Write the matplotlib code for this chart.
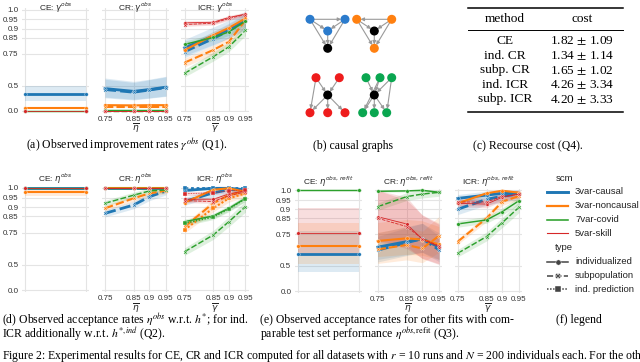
import numpy as np
import matplotlib
matplotlib.use("Agg")
import matplotlib.pyplot as plt
from matplotlib.lines import Line2D
from matplotlib.patches import Circle

# ---------------- data ----------------
SCMS = ["3var-causal", "3var-noncausal", "7var-covid", "5var-skill"]
TYPES = ["individualized", "subpopulation", "ind. prediction"]
SCM_COLORS = ["#1f77b4", "#ff7f0e", "#2ca02c", "#d62728"]
X_LEVELS = [0.75, 0.85, 0.9, 0.95]
X_TICKLABELS = ["0.75", "0.85", "0.9", "0.95"]
CE_X = [0.75, 0.95]
Y_TICKS = [0.0, 0.5, 0.75, 0.85, 0.9, 0.95, 1.0]
Y_TICKLABELS = ["0.0", "0.5", "0.75", "0.85", "0.9", "0.95", "1.0"]

C, N, V, S = SCMS
IND, SUB, PRED = TYPES

# (a) observed improvement rates gamma^obs: (means, ci half width)
A_CE = {
    (C, IND): ([0.41, 0.41], 0.09),
    (N, IND): ([0.18, 0.18], 0.02),
    (V, IND): ([0.02, 0.02], 0.01),
    (S, IND): ([0.0, 0.0], 0.0),
}
A_CR = {
    (C, IND): ([0.47, 0.44, 0.46, 0.485], 0.10),
    (C, SUB): ([0.46, 0.43, 0.455, 0.48], 0.10),
    (N, IND): ([0.24, 0.235, 0.24, 0.24], 0.02),
    (N, SUB): ([0.19, 0.19, 0.19, 0.19], 0.02),
    (V, IND): ([0.08, 0.08, 0.08, 0.08], 0.01),
    (V, SUB): ([0.06, 0.06, 0.06, 0.06], 0.01),
    (S, IND): ([0.0, 0.0, 0.0, 0.0], 0.0),
    (S, SUB): ([0.0, 0.0, 0.0, 0.0], 0.0),
}
A_ICR = {
    (C, IND): ([0.789, 0.859, 0.896, 0.942], 0.05),
    (C, SUB): ([0.764, 0.845, 0.89, 0.94], 0.04),
    (N, IND): ([0.774, 0.864, 0.905, 0.955], 0.02),
    (N, SUB): ([0.69, 0.775, 0.826, 0.946], 0.03),
    (V, IND): ([0.81, 0.851, 0.883, 0.941], 0.02),
    (V, SUB): ([0.609, 0.731, 0.795, 0.892], 0.03),
    (S, IND): ([0.932, 0.935, 0.96, 0.977], 0.01),
    (S, SUB): ([0.923, 0.93, 0.955, 0.975], 0.01),
}
# (d) observed acceptance rates eta^obs
D_CE = {
    (C, IND): ([1.0, 1.0], 0.0),
    (N, IND): ([0.977, 0.977], 0.02),
    (V, IND): ([1.0, 1.0], 0.0),
    (S, IND): ([1.0, 1.0], 0.0),
}
D_CR = {
    (C, IND): ([1.0, 1.0, 1.0, 1.0], 0.0),
    (C, SUB): ([0.866, 0.912, 0.955, 0.984], 0.02),
    (N, IND): ([1.0, 1.0, 1.0, 1.0], 0.0),
    (N, SUB): ([0.894, 0.947, 0.972, 0.985], 0.015),
    (V, IND): ([1.0, 1.0, 1.0, 1.0], 0.0),
    (V, SUB): ([0.921, 0.963, 0.984, 0.989], 0.015),
    (S, IND): ([1.0, 1.0, 1.0, 1.0], 0.0),
    (S, SUB): ([1.0, 1.0, 1.0, 1.0], 0.0),
}
D_ICR = {
    (C, IND): ([0.986, 0.997, 0.997, 0.99], 0.005),
    (C, SUB): ([0.93, 0.975, 0.99, 0.99], 0.02),
    (C, PRED): ([1.0, 1.0, 1.0, 1.0], 0.0),
    (N, IND): ([0.924, 0.99, 0.997, 0.98], 0.01),
    (N, SUB): ([0.787, 0.921, 0.963, 0.985], 0.02),
    (N, PRED): ([0.767, 0.894, 0.947, 0.972], 0.02),
    (V, IND): ([0.818, 0.851, 0.894, 0.947], 0.015),
    (V, SUB): ([0.613, 0.734, 0.818, 0.903], 0.03),
    (V, PRED): ([0.808, 0.845, 0.89, 0.945], 0.015),
    (S, IND): ([0.942, 0.942, 0.969, 0.985], 0.01),
    (S, SUB): ([0.935, 0.93, 0.96, 0.98], 0.01),
    (S, PRED): ([0.97, 0.975, 0.985, 0.99], 0.01),
}
# (e) acceptance rates for refits eta^obs,refit
E_CE = {
    (C, IND): ([0.604, 0.604], 0.17),
    (N, IND): ([0.671, 0.671], 0.15),
    (V, IND): ([1.0, 1.0], 0.0),
    (S, IND): ([0.757, 0.757], 0.15),
}
E_CR = {
    (C, IND): ([0.66, 0.70, 0.72, 0.66], 0.10),
    (C, SUB): ([0.637, 0.693, 0.72, 0.64], 0.10),
    (N, IND): ([0.705, 0.723, 0.715, 0.68], 0.12),
    (N, SUB): ([0.643, 0.676, 0.65, 0.74], 0.12),
    (V, IND): ([0.995, 0.997, 1.0, 0.99], 0.005),
    (V, SUB): ([0.915, 0.968, 0.981, 0.99], 0.02),
    (S, IND): ([0.859, 0.816, 0.717, 0.663], 0.15),
    (S, SUB): ([0.85, 0.80, 0.72, 0.67], 0.15),
}
E_ICR = {
    (C, IND): ([0.959, 0.976, 0.985, 0.985], 0.02),
    (C, SUB): ([0.901, 0.954, 0.97, 0.982], 0.03),
    (N, IND): ([0.933, 0.985, 0.998, 0.988], 0.01),
    (N, SUB): ([0.70, 0.85, 0.942, 0.971], 0.02),
    (V, IND): ([0.816, 0.84, 0.888, 0.947], 0.02),
    (V, SUB): ([0.612, 0.735, 0.824, 0.912], 0.03),
    (S, IND): ([0.933, 0.929, 0.965, 0.981], 0.02),
    (S, SUB): ([0.94, 0.94, 0.97, 0.98], 0.02),
}

# (c) recourse cost table
METHODS = ["CE", "ind. CR", "subp. CR", "ind. ICR", "subp. ICR"]
COST_MEAN = [1.82, 1.34, 1.65, 4.26, 4.20]
COST_STD = [1.09, 1.14, 1.02, 3.34, 3.33]

# (b) causal graphs: node (x, y) in graph units, colours, edges
G_NODES = [
    [(310, 19.3), (345, 19.3), (327.7, 31), (327.7, 48.3)],
    [(356.7, 19.3), (391.7, 19.3), (374.3, 31), (374.3, 48.3)],
    [(316, 77.7), (339.3, 77.7), (327.7, 95), (310, 112.7), (327.7, 112.7), (345, 112.7)],
    [(366, 77.7), (380, 77.7), (391.7, 77.7), (374.3, 95), (362.7, 112.7), (374.3, 112.7), (386.7, 112.7)],
]
G_COLORS = [
    ["#2b7bcc", "#2b7bcc", "#2b7bcc", "k"],
    ["#ff8010", "#ff8010", "k", "#ff8010"],
    ["#ee1c1c", "#ee1c1c", "k", "#ee1c1c", "#ee1c1c", "#ee1c1c"],
    ["#0aa650", "#0aa650", "#0aa650", "k", "#0aa650", "#0aa650", "#0aa650"],
]
G_EDGES = [
    [(0, 1), (0, 2), (1, 2), (0, 3), (1, 3), (2, 3)],
    [(1, 0), (0, 2), (1, 2), (0, 3), (1, 3), (2, 3)],
    [(0, 3), (0, 2), (1, 2), (2, 3), (2, 4), (2, 5)],
    [(0, 3), (1, 3), (2, 3), (1, 4), (2, 6), (3, 4), (3, 5), (3, 6)],
]

# ---------------- styling ----------------
LW = {C: 2.0, N: 1.5, V: 1.05, S: 0.6}
LEG_LW = {C: 2.1, N: 1.6, V: 1.15, S: 0.8}
DASH = {IND: None, SUB: (4, 1.5), PRED: (1, 1)}
MARK = {IND: "o", SUB: "X", PRED: "s"}
SANS = "Liberation Sans"
SERIF = "Liberation Serif"
W, H = 640, 362

plt.rcParams["font.family"] = [SANS, "DejaVu Sans"]
fig = plt.figure(figsize=(6.4, 3.62), dpi=100)


def fwd(v):
    v = np.asarray(v, float)
    return np.sign(v) * v ** 2


def inv(v):
    v = np.asarray(v, float)
    return np.sign(v) * np.sqrt(np.abs(v))


def make_axes(x0, x1, y1, y0, ce=False, ylabels=False, title="", xlabel="", title_top=None):
    span = x1 - x0
    mx = 0.05 * span
    my = 1.5
    hpx = y0 - y1
    ax = fig.add_axes([(x0 - mx) / W, 1 - (y0 + my) / H, (span + 2 * mx) / W, (hpx + 2 * my) / H])
    ax.set_xscale("function", functions=(fwd, inv))
    ax.set_yscale("function", functions=(fwd, inv))
    t0, t1 = 0.75 ** 2, 0.95 ** 2
    ax.set_xlim(float(inv(t0 - 0.05 * (t1 - t0))), float(inv(t1 + 0.05 * (t1 - t0))))
    ax.set_ylim(float(inv(-my / hpx)), float(inv(1 + my / hpx)))
    ax.set_yticks(Y_TICKS)
    ax.set_yticklabels(Y_TICKLABELS if ylabels else [""] * len(Y_TICKS))
    if ce:
        ax.set_xticks(CE_X)
        ax.set_xticklabels(["", ""])
    else:
        ax.set_xticks(X_LEVELS)
        ax.set_xticklabels(X_TICKLABELS)
    ax.minorticks_off()
    ax.tick_params(length=0, pad=2.4, labelsize=5.8, colors="#333333")
    ax.grid(True, color="#e4e4e4", lw=0.8)
    ax.set_axisbelow(True)
    for sp in ax.spines.values():
        sp.set_visible(False)
    if title_top is None:
        ax.set_title(title, fontsize=6.0, pad=1.8, color="#222222")
    else:
        fig.text(((x0 + x1) / 2) / W, 1 - title_top / H, title, ha="center", va="top",
                 fontsize=6.0, color="#222222")
    if xlabel:
        ax.set_xlabel(xlabel, fontsize=6.5, labelpad=-1.0, color="#222222")
    return ax


def draw(ax, data, xs):
    for scm, col in zip(SCMS, SCM_COLORS):
        for typ in TYPES:
            if (scm, typ) not in data:
                continue
            vals, hw = data[(scm, typ)]
            v = np.array(vals, float)
            if hw > 0:
                ax.fill_between(xs, np.clip(v - hw, 0, 1), np.clip(v + hw, 0, 1),
                                color=col, alpha=0.15, lw=0)
            ln, = ax.plot(xs, v, color=col, lw=LW[scm], marker=MARK[typ], ms=2.6,
                          mec="white", mew=0.25, clip_on=False)
            if DASH[typ]:
                ln.set_dashes(DASH[typ])


rows = [
    ((25, 86), (105, 166), (184.5, 245.5), 9.5, 111, (A_CE, A_CR, A_ICR), r"\gamma^{obs}", 0.4),
    ((25, 86), (105, 166), (184.5, 245.5), 187.7, 290.3, (D_CE, D_CR, D_ICR), r"\eta^{obs}", None),
    ((297.7, 359), (377.7, 439), (457.7, 519), 190.3, 291, (E_CE, E_CR, E_ICR), r"\eta^{obs,\,refit}", None),
]
for ce_x, cr_x, icr_x, y1, y0, dsets, sym, ttop in rows:
    ax = make_axes(*ce_x, y1, y0, ce=True, ylabels=True, title="CE: $%s$" % sym, title_top=ttop)
    draw(ax, dsets[0], CE_X)
    ax = make_axes(*cr_x, y1, y0, title="CR: $%s$" % sym, xlabel=r"$\overline{\eta}$", title_top=ttop)
    draw(ax, dsets[1], X_LEVELS)
    ax = make_axes(*icr_x, y1, y0, title="ICR: $%s$" % sym, xlabel=r"$\overline{\gamma}$", title_top=ttop)
    draw(ax, dsets[2], X_LEVELS)

# overlay in pixel coordinates for graphs, table, legend and captions
ov = fig.add_axes([0, 0, 1, 1], facecolor="none")
ov.set_xlim(0, W)
ov.set_ylim(H, 0)
ov.axis("off")

# (b) causal graphs
R = 3.8
for nodes, cols, edges in zip(G_NODES, G_COLORS, G_EDGES):
    for a, b in edges:
        ov.annotate("", xy=nodes[b], xytext=nodes[a],
                    arrowprops=dict(arrowstyle="-|>", color="#9a9a9a", lw=0.8,
                                    shrinkA=R * 0.72, shrinkB=R * 0.72, mutation_scale=5))
    for (x, y), c in zip(nodes, cols):
        ov.add_patch(Circle((x, y), R, color=c, zorder=3))

# (c) table
tx0, tx1 = 468, 623
ov.plot([tx0, tx1], [7.5, 7.5], color="k", lw=1.1)
ov.plot([tx0, tx1], [30, 30], color="k", lw=0.7)
ov.plot([tx0, tx1], [112, 112], color="k", lw=1.1)
ov.text(505, 19, "method", ha="center", va="center", fontsize=9.6, family=SERIF)
ov.text(582, 19, "cost", ha="center", va="center", fontsize=9.6, family=SERIF)
for i, (m, mu, sd) in enumerate(zip(METHODS, COST_MEAN, COST_STD)):
    yy = 41 + i * 14.6
    ov.text(505, yy, m, ha="center", va="center", fontsize=9.6, family=SERIF)
    ov.text(582, yy, "%.2f $\\pm$ %.2f" % (mu, sd), ha="center", va="center",
            fontsize=9.6, family=SERIF, math_fontfamily="stix")

# (f) legend
ov.text(556, 178.3, "scm", ha="left", va="center", fontsize=6.8, color="#222222")
for i, (scm, col) in enumerate(zip(SCMS, SCM_COLORS)):
    yy = 191.7 + i * 13.9
    ov.add_line(Line2D([547, 568], [yy, yy], color=col, lw=LEG_LW[scm]))
    ov.text(575, yy, scm, ha="left", va="center", fontsize=6.8, color="#222222")
ov.text(555, 247.3, "type", ha="left", va="center", fontsize=6.8, color="#222222")
for i, typ in enumerate(TYPES):
    yy = 261.7 + i * 13.8
    ln = Line2D([547, 568], [yy, yy], color="#444444", lw=1.1)
    if DASH[typ]:
        ln.set_dashes(DASH[typ])
    ov.add_line(ln)
    ov.add_line(Line2D([557.5], [yy], color="#444444", marker=MARK[typ], ms=3.8,
                       mec="white", mew=0.3, lw=0))
    ov.text(575, yy, typ, ha="left", va="center", fontsize=6.8, color="#222222")

# captions
cap = dict(family=SERIF, fontsize=8.5, color="k", math_fontfamily="stix", va="center")
ov.text(126.7, 146, r"(a) Observed improvement rates $\gamma^{obs}$ (Q1).", ha="center", **cap)
ov.text(353, 146, "(b) causal graphs", ha="center", **cap)
ov.text(528, 146, "(c) Recourse cost (Q4).", ha="center", **cap)
ov.text(2, 320.5, r"(d) Observed acceptance rates $\eta^{obs}$ w.r.t. $h^{*}$; for ind.", ha="left", **cap)
ov.text(2, 334.5, r"ICR additionally w.r.t. $h^{*,ind}$ (Q2).", ha="left", **cap)
ov.text(260, 320.5, "(e) Observed acceptance rates for other fits with com-", ha="left", **cap)
ov.text(260, 334.5, r"parable test set performance $\eta^{obs,\mathrm{refit}}$ (Q3).", ha="left", **cap)
ov.text(579, 320.5, "(f) legend", ha="center", **cap)
ov.text(2, 356, "Figure 2: Experimental results for CE, CR and ICR computed for all datasets with "
        "$r$ = 10 runs and $N$ = 200 individuals each. For the other", ha="left", **cap)

fig.savefig("out.png", dpi=100)
